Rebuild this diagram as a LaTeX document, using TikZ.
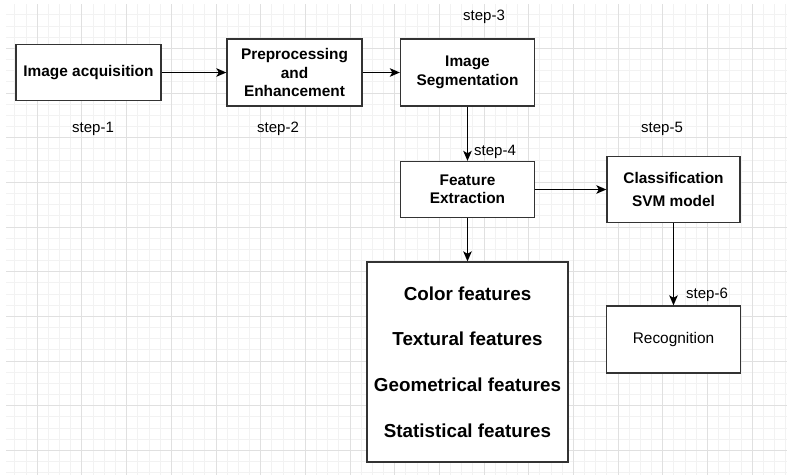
\documentclass[tikz,border=0pt]{standalone}
\usepackage{fontspec}
\setmainfont{Liberation Sans}
\usepackage{tikz}
\usetikzlibrary{arrows.meta}
\definecolor{boxline}{HTML}{333333}
\definecolor{gridminor}{HTML}{F2F2F2}
\definecolor{gridmajor}{HTML}{E0E0E0}

\begin{document}
\begin{tikzpicture}[x=1pt,y=-1pt,
    box/.style={shape=rectangle,draw=boxline,line width=1.3pt,fill=white,align=center,inner sep=2pt,
      font=\fontsize{15.4}{18.5}\selectfont\bfseries},
    steplbl/.style={font=\fontsize{15}{18}\selectfont,inner sep=0pt},
    >={Stealth[length=10pt,width=8.5pt,inset=2.5pt]},
    conn/.style={->,line width=1.5pt,black}]
  \useasboundingbox (0,0) rectangle (807,475);
  \fill[white] (0,0) rectangle (807,475);

  \begin{scope}
    \clip (6,4) rectangle (787,475);
    \foreach \i in {0,...,69} {
      \pgfmathsetmacro\gx{14.96+11.17*\i}
      \draw[gridminor,line width=1pt] (\gx,4) -- (\gx,475);
    }
    \foreach \j in {0,...,42} {
      \pgfmathsetmacro\gy{3.7+11.17*\j}
      \draw[gridminor,line width=1pt] (6,\gy) -- (787,\gy);
    }
    \foreach \i in {0,...,16} {
      \pgfmathsetmacro\gx{37.3+44.68*\i}
      \draw[gridmajor,line width=1pt] (\gx,4) -- (\gx,475);
    }
    \foreach \j in {0,...,10} {
      \pgfmathsetmacro\gy{3.7+44.68*\j}
      \draw[gridmajor,line width=1pt] (6,\gy) -- (787,\gy);
    }
  \end{scope}

  \node[box,minimum width=145pt,minimum height=56pt] (acq) at (88.5,72.5) {Image acquisition};
  \node[box,minimum width=135pt,minimum height=67pt] (pre) at (294.5,72.5) {Preprocessing\\and\\Enhancement};
  \node[box,minimum width=134pt,minimum height=67pt] (seg) at (467.5,72.5) {Image\\Segmentation};
  \node[box,minimum width=134pt,minimum height=56pt] (feat) at (467.5,189.5) {Feature\\Extraction};
  \node[box,minimum width=133pt,minimum height=66pt] (cls) at (673.5,189.5) {Classification\\[4pt]SVM model};
  \node[box,minimum width=201pt,minimum height=200pt,font=\fontsize{18.8}{22.6}\selectfont\bfseries] (fts) at (467.5,362)
    {Color features\\[23pt]Textural features\\[23pt]Geometrical features\\[23pt]Statistical features};
  \node[box,minimum width=134pt,minimum height=67pt,font=\fontsize{15.4}{18.5}\selectfont] (rec) at (673.5,339.5) {Recognition};

  \node[steplbl] (s1) at (93,129) {step-1};
  \node[steplbl] (s2) at (278,129) {step-2};
  \node[steplbl] (s3) at (484,17) {step-3};
  \node[steplbl] (s4) at (495,152) {step-4};
  \node[steplbl] (s5) at (662,129) {step-5};
  \node[steplbl] (s6) at (707,295) {step-6};

  \draw[conn] (acq) to (pre);
  \draw[conn] (pre) to (seg);
  \draw[conn] (seg) to (feat);
  \draw[conn] (feat) to (cls);
  \draw[conn] (feat) to (fts);
  \draw[conn] (cls) to (rec);
\end{tikzpicture}
\end{document}
